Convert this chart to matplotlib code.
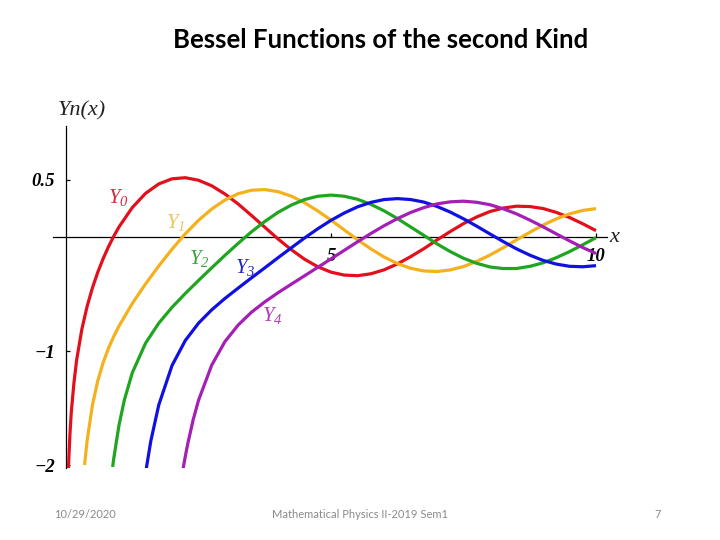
import matplotlib
matplotlib.use("Agg")
import matplotlib.pyplot as plt

plt.rcParams["mathtext.fontset"] = "custom"
plt.rcParams["mathtext.it"] = "Liberation Serif:italic"
plt.rcParams["mathtext.rm"] = "Liberation Serif:italic"

# values
x0 = [0.045, 0.05, 0.075, 0.1, 0.15, 0.2, 0.3, 0.4, 0.5, 0.6, 0.7, 0.8, 0.9, 1.0,
      1.25, 1.5, 1.75, 2.0, 2.25, 2.5, 2.75, 3.0, 3.25, 3.5, 3.75, 4.0, 4.25, 4.5,
      4.75, 5.0, 5.25, 5.5, 5.75, 6.0, 6.25, 6.5, 6.75, 7.0, 7.25, 7.5, 7.75, 8.0,
      8.25, 8.5, 8.75, 9.0, 9.25, 9.5, 9.75, 10.0]
y0 = [-2.05, -1.98, -1.723, -1.534, -1.279, -1.081, -0.807, -0.606, -0.4445, -0.3085,
      -0.1907, -0.0868, 0.0056, 0.0883, 0.2578, 0.3824, 0.4653, 0.5104, 0.520, 0.4981,
      0.449, 0.3769, 0.289, 0.189, 0.086, -0.0169, -0.111, -0.1947, -0.261, -0.3085,
      -0.334, -0.3395, -0.323, -0.2882, -0.237, -0.1732, -0.103, -0.0259, 0.048, 0.1173,
      0.176, 0.2235, 0.254, 0.2702, 0.267, 0.2499, 0.216, 0.171, 0.116, 0.0557]

x1 = [0.35, 0.4, 0.5, 0.6, 0.7, 0.8, 0.9, 1.0, 1.25, 1.5, 1.75, 2.0, 2.25, 2.5, 2.75,
      3.0, 3.25, 3.5, 3.75, 4.0, 4.25, 4.5, 4.75, 5.0, 5.25, 5.5, 5.75, 6.0, 6.25, 6.5,
      6.75, 7.0, 7.25, 7.5, 7.75, 8.0, 8.25, 8.5, 8.75, 9.0, 9.25, 9.5, 9.75, 10.0]
y1 = [-2.0, -1.7809, -1.4715, -1.2604, -1.1032, -0.9781, -0.8731, -0.7812, -0.584,
      -0.4123, -0.254, -0.107, 0.0275, 0.1459, 0.246, 0.3247, 0.380, 0.4102, 0.416,
      0.3979, 0.3586, 0.301, 0.229, 0.1479, 0.062, -0.0238, -0.104, -0.175, -0.2326,
      -0.2741, -0.2977, -0.3027, -0.289, -0.2591, -0.214, -0.1581, -0.094, -0.026,
      0.041, 0.1043, 0.159, 0.203, 0.233, 0.249]

x2 = [0.88, 0.9, 1.0, 1.1, 1.25, 1.5, 1.75, 2.0, 2.25, 2.5, 2.75, 3.0, 3.25, 3.5, 3.75,
      4.0, 4.25, 4.5, 4.75, 5.0, 5.25, 5.5, 5.75, 6.0, 6.25, 6.5, 6.75, 7.0, 7.25, 7.5,
      7.75, 8.0, 8.25, 8.5, 8.75, 9.0, 9.25, 9.5, 9.75, 10.0]
y2 = [-2.017, -1.946, -1.6507, -1.4315, -1.192, -0.932, -0.756, -0.6174, -0.4956,
      -0.3814, -0.270, -0.1604, -0.055, 0.0454, 0.136, 0.2159, 0.2798, 0.3285, 0.3574,
      0.3677, 0.3576, 0.3308, 0.2868, 0.2299, 0.1626, 0.0889, 0.0148, -0.0606, -0.1277,
      -0.1864, -0.2312, -0.263, -0.2768, -0.2763, -0.2576, -0.2267, -0.1816, -0.1283,
      -0.0682, -0.0059]

x3 = [1.5, 1.6, 1.75, 2.0, 2.25, 2.5, 2.75, 3.0, 3.25, 3.5, 3.75, 4.0, 4.25, 4.5, 4.75,
      5.0, 5.25, 5.5, 5.75, 6.0, 6.25, 6.5, 6.75, 7.0, 7.25, 7.5, 7.75, 8.0, 8.25, 8.5,
      8.75, 9.0, 9.25, 9.5, 9.75, 10.0]
y3 = [-2.073, -1.79, -1.474, -1.128, -0.9086, -0.7561, -0.6387, -0.5386, -0.4477,
      -0.3583, -0.2709, -0.182, -0.0953, -0.009, 0.072, 0.1463, 0.2105, 0.2644, 0.3035,
      0.3283, 0.3367, 0.3288, 0.3065, 0.2681, 0.2185, 0.1597, 0.0947, 0.0266, -0.0402,
      -0.104, -0.1588, -0.2051, -0.2375, -0.257, -0.261, -0.2514]

x4 = [2.2, 2.25, 2.3, 2.4, 2.5, 2.75, 3.0, 3.25, 3.5, 3.75, 4.0, 4.25, 4.5, 4.75, 5.0,
      5.25, 5.5, 5.75, 6.0, 6.25, 6.5, 6.75, 7.0, 7.25, 7.5, 7.75, 8.0, 8.25, 8.5, 8.75,
      9.0, 9.25, 9.5, 9.75, 10.0]
y4 = [-2.056, -1.927, -1.808, -1.602, -1.433, -1.1235, -0.9168, -0.7715, -0.6596,
      -0.5694, -0.4889, -0.4143, -0.3405, -0.2664, -0.1921, -0.117, -0.0424, 0.0299,
      0.0984, 0.1606, 0.2146, 0.2576, 0.2904, 0.3085, 0.3142, 0.3045, 0.283, 0.2476,
      0.2029, 0.1487, 0.09, 0.0276, -0.034, -0.0924, -0.1449]

curves = [(x0, y0), (x1, y1), (x2, y2), (x3, y3), (x4, y4)]
names = [r"$Y_0$", r"$Y_1$", r"$Y_2$", r"$Y_3$", r"$Y_4$"]
label_x = [0.98, 2.06, 2.51, 3.38, 3.89]
label_y = [0.35, 0.13, -0.19, -0.27, -0.69]
colors = ["#e2101c", "#f4b11c", "#1fa51f", "#1010e0", "#a41fb4"]
label_colors = ["#d6283a", "#ecc45c", "#3ea33e", "#2626c8", "#b040b4"]

# layout: pixel = origin + scale * value
px0, sx = 66, 53
py0, sy = 237, 114
xlo, xhi = -0.3, 10.6
ylo, yhi = -2.03, 1.2

fig = plt.figure(figsize=(7.2, 5.4), dpi=100)
left = (px0 + sx * xlo) / 720
right = (px0 + sx * xhi) / 720
bottom = 1 - (py0 - sy * ylo) / 540
top = 1 - (py0 - sy * yhi) / 540
ax = fig.add_axes([left, bottom, right - left, top - bottom])
ax.set_xlim(xlo, xhi)
ax.set_ylim(ylo, yhi)
ax.set_axisbelow(True)

for (xs, ys), c in zip(curves, colors):
    ax.plot(xs, ys, color=c, lw=2.3, solid_capstyle="butt")

for name, lx, ly, c in zip(names, label_x, label_y, label_colors):
    ax.text(lx, ly, name, color=c, fontsize=15, ha="center", va="center")

for side in ["top", "right"]:
    ax.spines[side].set_visible(False)
ax.spines["left"].set_position(("data", 0))
ax.spines["bottom"].set_position(("data", 0))
ax.spines["left"].set_bounds(ylo, 0.97)
ax.spines["bottom"].set_bounds(-0.25, 10.2)
for side in ["left", "bottom"]:
    ax.spines[side].set_linewidth(0.9)
    ax.spines[side].set_zorder(0.5)

tick_font = dict(family="Liberation Serif", style="italic", weight="bold", size=13.5)
ax.set_xticks([5, 10])
ax.set_xticklabels(["5", "10"], **tick_font)
ax.set_yticks([0.5, -1, -2])
ax.set_yticklabels(["0.5", "\u22121", "\u22122"], **tick_font)
ax.tick_params(axis="both", direction="in", length=3, width=0.9)
ax.tick_params(axis="x", pad=8)
ax.tick_params(axis="y", pad=8)

ax.text(0.3, 1.11, "Yn(x)", family="Liberation Serif", style="italic",
        fontsize=16, color="#222222", ha="center", va="center")
ax.text(10.34, 0.0, "x", family="Liberation Serif", style="italic",
        fontsize=16, color="#222222", ha="center", va="center")

fig.text(0.529, 1 - 40 / 540, "Bessel Functions of the second Kind",
         fontsize=18.5, weight="bold", family="Lato", ha="center", va="center")

foot = dict(fontsize=8, color="#8a8a8a", family="Lato", va="center")
fig.text(85 / 720, 1 - 515 / 540, "10/29/2020", ha="center", **foot)
fig.text(360 / 720, 1 - 515 / 540, "Mathematical Physics II-2019 Sem1", ha="center", **foot)
fig.text(658 / 720, 1 - 515 / 540, "7", ha="center", **foot)

fig.savefig("out.png", dpi=100)
